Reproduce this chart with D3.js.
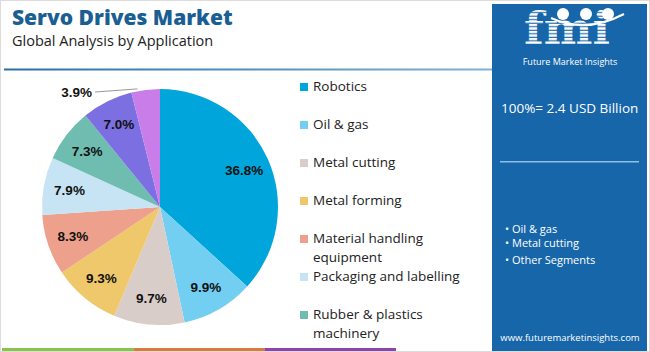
<!DOCTYPE html>
<html><head><meta charset="utf-8">
<script src="https://cdn.jsdelivr.net/npm/d3@7"></script>
<style>body{margin:0;background:#fff}svg{display:block}</style>
</head><body>
<svg id="c" width="650" height="352"></svg>
<script>
const categories = ["Robotics","Oil & gas","Metal cutting","Metal forming","Material handling equipment","Packaging and labelling","Rubber & plastics machinery","Others A","Others B"];
const values = [36.8, 9.9, 9.7, 9.3, 8.3, 7.9, 7.3, 7.0, 3.9];
const colors = ["#00a5dc","#72cff2","#d9cdc9","#f0c86c","#eda18c","#c6e4f3","#6fbdb1","#7b6fe2","#c97de8"];
const legendLines = [["Robotics"],["Oil & gas"],["Metal cutting"],["Metal forming"],["Material handling","equipment"],["Packaging and labelling"],["Rubber & plastics","machinery"]];
const bullets = ["Oil & gas","Metal cutting","Other Segments"];

const svg = d3.select("#c");
svg.append("rect").attr("x",0.5).attr("y",0.5).attr("width",649).attr("height",351).attr("fill","#fff").attr("stroke","#dcdcdc");

svg.append("text").attr("x",12).attr("y",25).text("Servo Drives Market")
  .attr("font-family","Open Sans, sans-serif").attr("font-weight",800).attr("font-size",21).attr("fill","#1a5e94");
svg.append("text").attr("x",12).attr("y",46).text("Global Analysis by Application")
  .attr("font-family","Open Sans, sans-serif").attr("font-size",14.5).attr("fill","#222");
const defs = svg.append("defs");
const grad = defs.append("linearGradient").attr("id","lg");
grad.append("stop").attr("offset","0").attr("stop-color","#2a6ea8");
grad.append("stop").attr("offset","1").attr("stop-color","#7db3d8");
svg.append("rect").attr("x",4).attr("y",68.5).attr("width",488).attr("height",2).attr("fill","url(#lg)");

[["#8bc34a",2,132],["#e07a3c",134,131],["#8e44ad",265,131]].forEach(s=>{
  svg.append("rect").attr("x",s[1]).attr("y",348).attr("width",s[2]).attr("height",3).attr("fill",s[0]);
});

const cx=160, cy=207, R=118;
const pie = d3.pie().sort(null).value(d=>d)(values);
const arc = d3.arc().innerRadius(0).outerRadius(R);
const g = svg.append("g").attr("transform",`translate(${cx},${cy})`);
g.selectAll("path").data(pie).join("path").attr("d",arc).attr("fill",(d,i)=>colors[i]);
const lab = d3.arc().innerRadius(92).outerRadius(92);
pie.forEach((d,i)=>{
  if(i===pie.length-1){
    const a=(d.startAngle+d.endAngle)/2;
    const p=[Math.sin(a)*R, -Math.cos(a)*R];
    g.append("polyline").attr("points",`${p[0]-8},${p[1]-1} ${-65},${-115}`).attr("fill","none").attr("stroke","#999").attr("stroke-width",1);
    g.append("text").attr("x",-68).attr("y",-110).attr("text-anchor","end").text(values[i].toFixed(1)+"%")
      .attr("font-family","Liberation Sans, Arial, sans-serif").attr("font-weight","bold").attr("font-size",13.5).attr("fill","#111");
    return;
  }
  const c=lab.centroid(d);
  g.append("text").attr("x",c[0]).attr("y",c[1]).attr("dy","0.35em").attr("text-anchor","middle")
    .text(values[i].toFixed(1)+"%").attr("font-family","Liberation Sans, Arial, sans-serif")
    .attr("font-weight","bold").attr("font-size",13.5).attr("fill","#111");
});

const ly0=86, lstep=38;
legendLines.forEach((ls,i)=>{
  const y=ly0+i*lstep;
  svg.append("rect").attr("x",300).attr("y",y-3).attr("width",8).attr("height",8).attr("fill",colors[i]);
  ls.forEach((t,j)=>{
    svg.append("text").attr("x",313).attr("y",y+5+j*19).text(t)
      .attr("font-family","Open Sans, sans-serif").attr("font-size",13.5).attr("fill","#222");
  });
});

const px=492;
svg.append("rect").attr("x",px).attr("y",4).attr("width",155).attr("height",347).attr("fill","#1766a9");
const pat=defs.append("pattern").attr("id","stripes").attr("patternUnits","userSpaceOnUse").attr("width",4).attr("height",3.2);
pat.append("rect").attr("width",4).attr("height",2.2).attr("fill","#fff");
svg.append("text").attr("x",567).attr("y",44).attr("text-anchor","middle").text("fmi")
  .attr("font-family","DejaVu Serif, serif").attr("font-weight","bold").attr("font-size",40).attr("fill","url(#stripes)")
  .attr("transform","translate(567,44) scale(1.15,1.1) translate(-567,-44)");
[563,586,608].forEach(x=>svg.append("circle").attr("cx",x).attr("cy",14).attr("r",6).attr("fill","#fff"));
svg.append("path").attr("d","M551,18 Q586,34 624,14").attr("fill","none").attr("stroke","#fff").attr("stroke-width",2);
svg.append("text").attr("x",570).attr("y",65).attr("text-anchor","middle").text("Future Market Insights")
  .attr("font-family","Open Sans, sans-serif").attr("font-size",9).attr("fill","#fff");
svg.append("text").attr("x",501).attr("y",113).text("100%= 2.4 USD Billion")
  .attr("font-family","Open Sans, sans-serif").attr("font-size",13.5).attr("fill","#fff");
svg.append("rect").attr("x",500).attr("y",161).attr("width",139).attr("height",1.5).attr("fill","#8cc0e6");
bullets.forEach((b,i)=>{
  svg.append("text").attr("x",505).attr("y",[233,247,264][i]).text("• "+b)
    .attr("font-family","Open Sans, sans-serif").attr("font-size",11).attr("fill","#fff");
});
svg.append("text").attr("x",570).attr("y",341).attr("text-anchor","middle").text("www.futuremarketinsights.com")
  .attr("font-family","Open Sans, sans-serif").attr("font-size",9.5).attr("fill","#fff");
</script>
</body></html>
